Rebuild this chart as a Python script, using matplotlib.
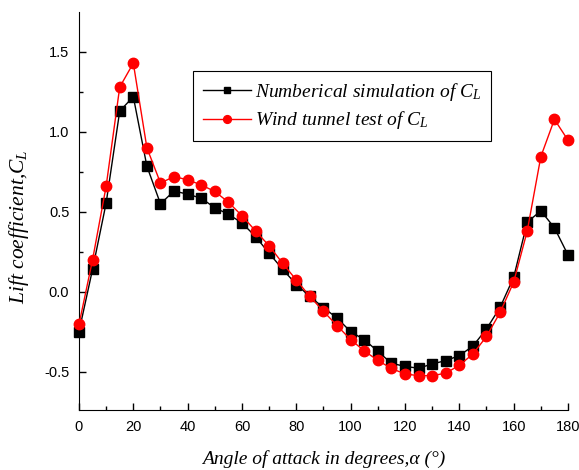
import numpy as np
import matplotlib
matplotlib.use('Agg')
import matplotlib.pyplot as plt

# 数据：攻角与升力系数
angle = list(range(0, 181, 5))
cl_sim = [-0.25, 0.14, 0.555, 1.13, 1.22, 0.785, 0.55, 0.63, 0.61, 0.585, 0.525,
          0.485, 0.43, 0.345, 0.24, 0.14, 0.045, -0.03, -0.10, -0.165, -0.25,
          -0.30, -0.373, -0.448, -0.467, -0.479, -0.452, -0.431, -0.40, -0.34,
          -0.233, -0.098, 0.09, 0.435, 0.506, 0.40, 0.23]
cl_wind = [-0.205, 0.20, 0.66, 1.28, 1.43, 0.90, 0.68, 0.72, 0.70, 0.668, 0.627,
           0.56, 0.475, 0.38, 0.287, 0.177, 0.073, -0.03, -0.123, -0.212, -0.30,
           -0.37, -0.43, -0.48, -0.515, -0.525, -0.525, -0.51, -0.46, -0.39,
           -0.28, -0.13, 0.06, 0.38, 0.845, 1.078, 0.948]

x_ticks = [0, 20, 40, 60, 80, 100, 120, 140, 160, 180]
y_ticks = [-0.5, 0.0, 0.5, 1.0, 1.5]

plt.rcParams['mathtext.fontset'] = 'custom'
plt.rcParams['mathtext.rm'] = 'Liberation Serif'
plt.rcParams['mathtext.it'] = 'Liberation Serif:italic'

fig = plt.figure(figsize=(5.79, 4.70), dpi=100)
ax = fig.add_axes([0.1364, 0.1277, 0.8446, 0.8468])

ax.plot(angle, cl_sim, '-', color='black', lw=1.0, marker='s', ms=6.5,
        label=r'Numberical simulation of $C_L$', clip_on=False, zorder=3)
ax.plot(angle, cl_wind, '-', color='red', lw=1.0, marker='o', ms=7.5,
        label=r'Wind tunnel test of $C_L$', clip_on=False, zorder=4)

ax.set_xlim(0, 180)
ax.set_ylim(-0.74, 1.75)
ax.set_xticks(x_ticks)
ax.set_xticks(range(10, 180, 20), minor=True)
ax.set_yticks(y_ticks)
ax.set_yticks([-0.25, 0.25, 0.75, 1.25], minor=True)
ax.set_yticklabels(['-0.5', '0.0', '0.5', '1.0', '1.5'])

for s in ['top', 'right']:
    ax.spines[s].set_visible(False)
ax.tick_params(which='both', direction='in', labelsize=10.5, width=1.0)
ax.tick_params(which='major', length=5, pad=7)
ax.tick_params(which='minor', length=3)
for lab in ax.get_xticklabels() + ax.get_yticklabels():
    lab.set_fontfamily('Liberation Sans')

ax.set_xlabel('Angle of attack in degrees,α (°)', fontfamily='Liberation Serif',
              fontstyle='italic', fontsize=14, labelpad=12)
ax.set_ylabel(r'Lift coefficient,$C_L$', fontfamily='Liberation Serif',
              fontstyle='italic', fontsize=15.5)
ax.yaxis.set_label_coords(-0.099, 0.46)

leg = ax.legend(loc='upper left', bbox_to_anchor=(0.333, 0.849),
                bbox_transform=fig.transFigure, borderaxespad=0,
                fancybox=False, edgecolor='black', framealpha=1,
                numpoints=1, handlelength=2.5, handletextpad=0.2,
                borderpad=0.5, labelspacing=0.35, markerscale=0.75,
                prop={'family': 'Liberation Serif', 'style': 'italic', 'size': 14})
leg.get_frame().set_linewidth(0.8)

fig.savefig('out.png', dpi=100)
